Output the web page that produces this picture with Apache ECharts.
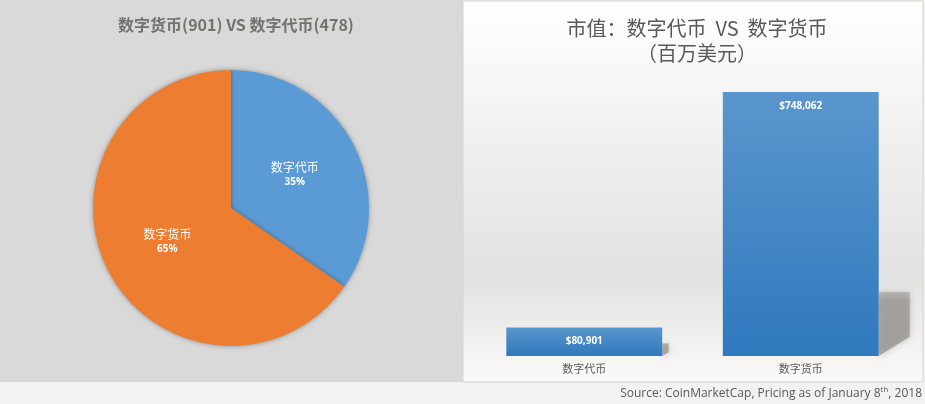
<!DOCTYPE html>
<html>
<head>
<meta charset="utf-8">
<script src="https://cdn.jsdelivr.net/npm/echarts@6/dist/echarts.min.js"></script>
<style>
  html, body { margin: 0; padding: 0; background: #f2f2f0; }
  #main { width: 925px; height: 404px; }
</style>
</head>
<body>
<div id="main"></div>
<script>
// 饼图：数量
var pieNames = ['数字代币', '数字货币'];
var pieCounts = [478, 901];
// 柱图：市值（百万美元）
var barCategories = ['数字代币', '数字货币'];
var barValues = [80901, 748062];

var chart = echarts.init(document.getElementById('main'));
var cjk = '"Noto Sans CJK SC", "Open Sans", sans-serif';

var pieData = [];
for (var i = 0; i < pieNames.length; i++) {
    pieData.push({ name: pieNames[i], value: pieCounts[i] });
}

// 柱子右侧的透视阴影
function renderShadow(params, api) {
    var idx = api.value(0);
    var top = api.coord([idx, api.value(1)]);
    var base = api.coord([idx, 0]);
    var band = api.size([1, 0])[0];
    var xr = base[0] + band * 0.36;
    var barH = base[1] - top[1];
    var h = Math.min(barH * 0.45, 64);
    var dx = Math.min(h * 0.5, 31);
    return {
        type: 'polygon',
        shape: { points: [[xr, base[1] - h], [xr + dx, base[1] - h], [xr + dx, base[1] - h * 0.3], [xr, base[1]]] },
        style: {
            fill: new echarts.graphic.LinearGradient(0, 0, 0, 1, [
                { offset: 0, color: 'rgba(160,156,152,0.55)' },
                { offset: 0.15, color: 'rgba(160,156,152,0.85)' },
                { offset: 1, color: 'rgba(150,146,142,0.75)' }
            ]),
            shadowBlur: 6, shadowColor: 'rgba(150,146,142,0.7)'
        }
    };
}

var option = {
    animation: false,
    backgroundColor: '#f2f2f0',
    graphic: [
        { type: 'rect', z: -10, shape: { x: 0, y: 0, width: 463, height: 382 }, style: { fill: '#d9d9d9' } },
        {
            type: 'rect', z: -10, shape: { x: 463, y: 1, width: 460, height: 381 },
            style: {
                stroke: '#d4d4d4', lineWidth: 1,
                fill: new echarts.graphic.LinearGradient(0, 0, 0, 1, [
                    { offset: 0, color: '#ffffff' },
                    { offset: 0.72, color: '#e2e2e2' },
                    { offset: 1, color: '#fbfaf8' }
                ])
            }
        }
    ],
    title: [{
        text: '数字货币(901) VS 数字代币(478)',
        left: 231, top: 12, textAlign: 'center',
        textStyle: { fontFamily: cjk, fontSize: 16, fontWeight: 'bold', color: '#757171' }
    }, {
        text: '市值：数字代币  VS  数字货币\n（百万美元）',
        left: 692, top: 11, textAlign: 'center',
        textStyle: { fontFamily: cjk, fontSize: 20, fontWeight: 'normal', color: '#595959', lineHeight: 25 }
    }, {
        text: '{a|Source: CoinMarketCap, Pricing as of January 8}{s|th}{a|, 2018}',
        right: 3, top: 386, padding: 0,
        textStyle: {
            rich: {
                a: { fontFamily: '"Open Sans", sans-serif', fontSize: 12, fontWeight: 'normal', color: '#595959' },
                s: { fontFamily: '"Open Sans", sans-serif', fontSize: 8, fontWeight: 'normal', color: '#595959', padding: [0, 0, 7, 0] }
            }
        }
    }],
    grid: { left: 476, right: 16, top: 92, bottom: 48 },
    xAxis: {
        type: 'category',
        data: barCategories,
        axisLine: { show: false },
        axisTick: { show: false },
        axisLabel: { color: '#595959', fontFamily: cjk, fontSize: 11, margin: 7 }
    },
    yAxis: {
        type: 'value',
        min: 0, max: 748062,
        show: false,
        splitLine: { show: false }
    },
    series: [{
        type: 'pie',
        center: [231, 208],
        radius: 138,
        startAngle: 90,
        clockwise: true,
        data: pieData,
        color: ['#5b9bd5', '#ed7d31'],
        itemStyle: { shadowBlur: 5, shadowColor: 'rgba(0,0,0,0.35)' },
        label: {
            position: 'inside',
            formatter: function (p) {
                return '{n|' + p.name + '}\n{p|' + Math.round(p.percent) + '%}';
            },
            rich: {
                n: { color: '#ffffff', fontFamily: cjk, fontSize: 12, lineHeight: 16 },
                p: { color: '#ffffff', fontFamily: '"Open Sans", sans-serif', fontSize: 10, fontWeight: 'bold', lineHeight: 14 }
            }
        },
        labelLine: { show: false },
        emphasis: { disabled: true }
    }, {
        type: 'custom',
        renderItem: renderShadow,
        data: barValues.map(function (v, i) { return [i, v]; }),
        z: 1,
        silent: true
    }, {
        type: 'bar',
        data: barValues,
        barWidth: '72%',
        z: 2,
        itemStyle: {
            color: new echarts.graphic.LinearGradient(0, 0, 0, 1, [
                { offset: 0, color: '#5a96cd' },
                { offset: 1, color: '#2f79bd' }
            ])
        },
        label: {
            show: true,
            position: 'insideTop',
            distance: 9,
            color: '#ffffff',
            fontFamily: '"Open Sans", sans-serif',
            fontSize: 10,
            fontWeight: 'bold',
            formatter: function (p) { return '$' + p.value.toLocaleString('en-US'); }
        }
    }]
};
chart.setOption(option);
</script>
</body>
</html>
